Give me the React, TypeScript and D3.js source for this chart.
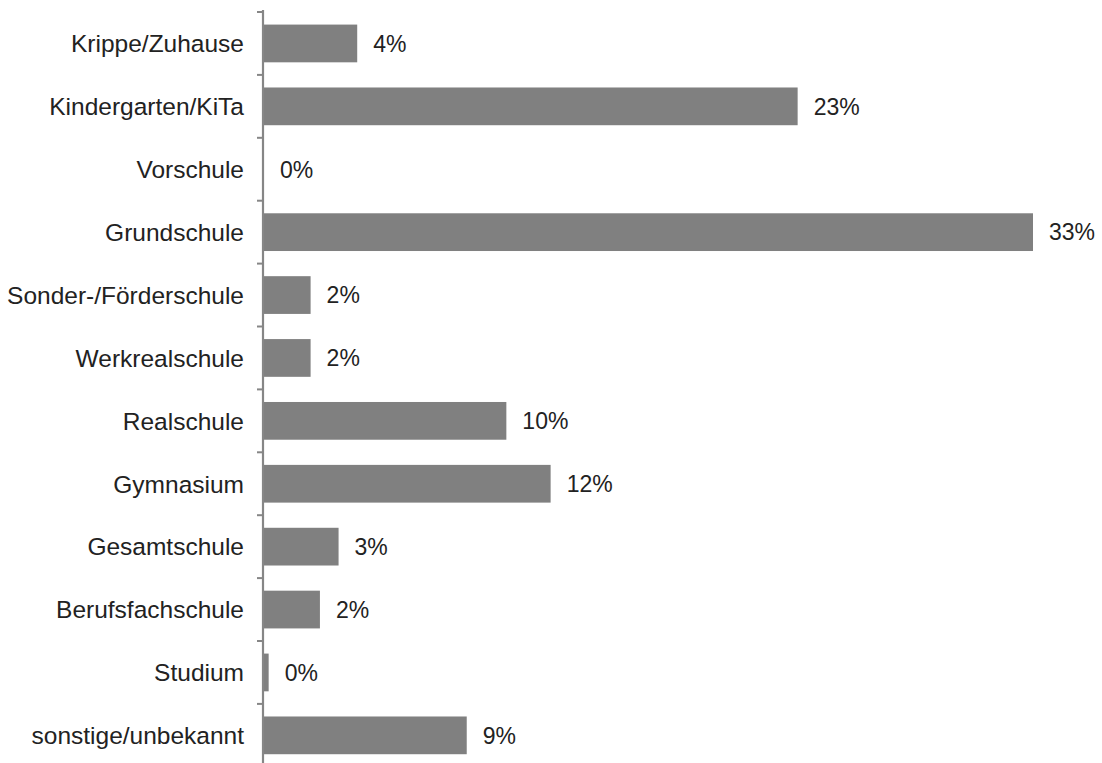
import React from "react";
import * as d3 from "d3";

const categories = [
  "Krippe/Zuhause",
  "Kindergarten/KiTa",
  "Vorschule",
  "Grundschule",
  "Sonder-/Förderschule",
  "Werkrealschule",
  "Realschule",
  "Gymnasium",
  "Gesamtschule",
  "Berufsfachschule",
  "Studium",
  "sonstige/unbekannt",
];
const values = [4.0, 22.9, 0, 33.0, 2.0, 2.0, 10.4, 12.3, 3.2, 2.4, 0.2, 8.7];
const valueLabels = ["4%", "23%", "0%", "33%", "2%", "2%", "10%", "12%", "3%", "2%", "0%", "9%"];

const W = 1102;
const H = 763;

export default function App() {
  const step = 62.9;
  const top = 12;
  const y = d3
    .scaleBand<string>()
    .domain(categories)
    .range([top, top + step * categories.length])
    .paddingInner(0.4)
    .paddingOuter(0.2);
  const x = d3.scaleLinear().domain([0, 33.0]).range([264, 1033]);
  const axisX = 263;
  const font = "'Liberation Sans', Arial, sans-serif";
  const ticks = d3.range(categories.length + 1).map((i) => top + i * y.step());

  return (
    <svg
      width={W}
      height={H}
      style={{ position: "absolute", left: 0, top: 0, background: "#fff" }}
      fontFamily={font}
    >
      {categories.map((c, i) => {
        const by = y(c)!;
        const bw = x(values[i]) - x(0);
        return (
          <g key={c}>
            {bw > 0 && (
              <rect x={x(0)} y={by} width={bw} height={y.bandwidth()} fill="#808080" />
            )}
            <text
              x={244}
              y={by + y.bandwidth() / 2}
              dy="0.36em"
              textAnchor="end"
              fontSize={24.5}
              fill="#222"
            >
              {c}
            </text>
            <text
              x={x(values[i]) + 16}
              y={by + y.bandwidth() / 2}
              dy="0.36em"
              textAnchor="start"
              fontSize={23}
              fill="#222"
            >
              {valueLabels[i]}
            </text>
          </g>
        );
      })}
      <line x1={axisX} x2={axisX} y1={10} y2={H} stroke="#868686" strokeWidth={2.2} />
      {ticks.map((t, i) => (
        <line key={i} x1={257} x2={axisX} y1={t} y2={t} stroke="#868686" strokeWidth={2} />
      ))}
    </svg>
  );
}
